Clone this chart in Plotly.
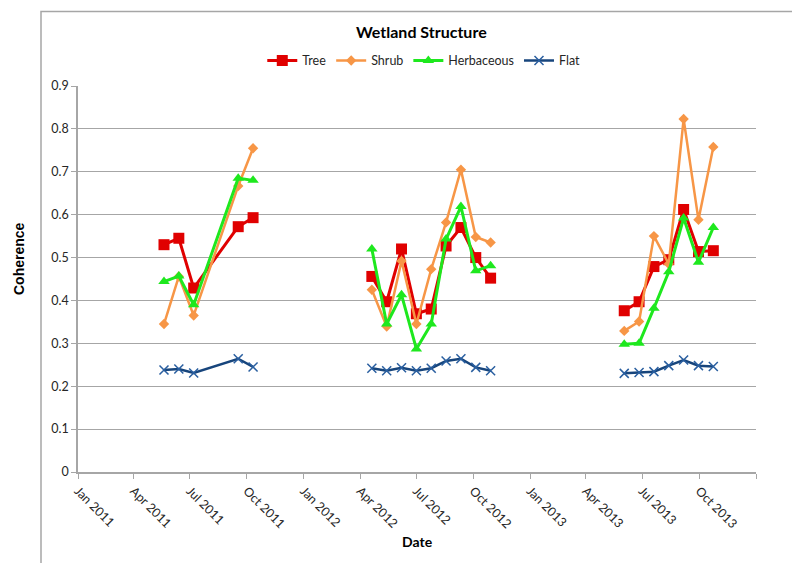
import plotly.graph_objects as go

# Acquisition dates per season (24-day repeat cycle)
dates_2011 = ["2011-05-20", "2011-06-13", "2011-07-07", "2011-09-17", "2011-10-11"]
dates_2012 = ["2012-04-20", "2012-05-14", "2012-06-07", "2012-07-01", "2012-07-25",
              "2012-08-18", "2012-09-11", "2012-10-05", "2012-10-29"]
dates_2013 = ["2013-06-02", "2013-06-26", "2013-07-20", "2013-08-13", "2013-09-06",
              "2013-09-30", "2013-10-24"]

# Mean coherence per wetland class
tree_2011 = [0.530, 0.545, 0.429, 0.572, 0.593]
tree_2012 = [0.456, 0.397, 0.520, 0.369, 0.380, 0.527, 0.570, 0.500, 0.452]
tree_2013 = [0.376, 0.397, 0.479, 0.495, 0.612, 0.514, 0.516]

shrub_2011 = [0.345, 0.456, 0.365, 0.667, 0.755]
shrub_2012 = [0.425, 0.339, 0.492, 0.345, 0.473, 0.582, 0.705, 0.548, 0.535]
shrub_2013 = [0.329, 0.351, 0.550, 0.485, 0.823, 0.588, 0.758]

herb_2011 = [0.444, 0.457, 0.390, 0.685, 0.680]
herb_2012 = [0.520, 0.345, 0.413, 0.287, 0.345, 0.543, 0.619, 0.469, 0.481]
herb_2013 = [0.298, 0.300, 0.382, 0.467, 0.592, 0.489, 0.570]

flat_2011 = [0.238, 0.240, 0.231, 0.264, 0.245]
flat_2012 = [0.242, 0.236, 0.243, 0.236, 0.242, 0.259, 0.264, 0.244, 0.236]
flat_2013 = [0.230, 0.232, 0.234, 0.248, 0.261, 0.248, 0.246]

y_ticks = [0, 0.1, 0.2, 0.3, 0.4, 0.5, 0.6, 0.7, 0.8, 0.9]
y_tick_labels = ["0", "0.1", "0.2", "0.3", "0.4", "0.5", "0.6", "0.7", "0.8", "0.9"]


def seasons(a, b, c):
    # break the line between seasons
    return list(a) + [None] + list(b) + [None] + list(c)


x_all = seasons(dates_2011, dates_2012, dates_2013)

series = [
    ("Tree", seasons(tree_2011, tree_2012, tree_2013), "#E00000",
     dict(symbol="square", size=11), 3),
    ("Shrub", seasons(shrub_2011, shrub_2012, shrub_2013), "#F79646",
     dict(symbol="diamond", size=8), 2.5),
    ("Herbaceous", seasons(herb_2011, herb_2012, herb_2013), "#1EE81E",
     dict(symbol="triangle-up", size=10), 3),
    ("Flat", seasons(flat_2011, flat_2012, flat_2013), "#17457C",
     dict(symbol="x-thin", size=9, line=dict(width=1.5, color="#2A5FA0")), 2.5),
]

fig = go.Figure()
for name, vals, color, marker, lw in series:
    m = dict(color=color, **marker)
    fig.add_trace(go.Scatter(
        x=x_all, y=vals, name=name, mode="lines+markers",
        line=dict(color=color, width=lw), marker=m, connectgaps=False,
    ))

font_main = "Lato, 'Open Sans', Arial, sans-serif"

fig.update_layout(
    width=792, height=563,
    margin=dict(l=78, r=36, t=86, b=91),
    paper_bgcolor="white", plot_bgcolor="white",
    font=dict(family=font_main, size=12, color="#262626"),
    title=dict(text="<b>Wetland Structure</b>", x=0.532, xanchor="center",
               y=1 - 32 / 563, yanchor="middle", yref="container",
               font=dict(size=16, color="#000000")),
    showlegend=True,
    legend=dict(orientation="h", x=0.51, xanchor="center", y=1.065, yanchor="middle",
                font=dict(size=12.5, color="#262626"), itemwidth=30,
                bgcolor="rgba(0,0,0,0)", tracegroupgap=0),
    xaxis=dict(
        type="date", range=["2011-01-01", "2014-01-01"],
        tick0="2011-01-01", dtick="M3", tickformat="%b %Y", tickangle=45,
        showgrid=False, showline=True, linecolor="#A6A6A6", linewidth=1.5,
        ticks="outside", ticklen=5, tickcolor="#A6A6A6", tickwidth=1,
        tickfont=dict(size=12.5, color="#262626"), zeroline=False,
    ),
    yaxis=dict(
        range=[0, 0.9], tickvals=y_ticks, ticktext=y_tick_labels,
        showgrid=True, gridcolor="#A6A6A6", gridwidth=1.2,
        showline=True, linecolor="#A6A6A6", linewidth=1.5,
        ticks="outside", ticklen=5, tickcolor="#A6A6A6",
        tickfont=dict(size=12.5, color="#262626"), zeroline=False,
    ),
    annotations=[
        dict(text="<b>Date</b>", xref="paper", yref="paper",
             x=(417 - 78) / 678, y=(472 - 541) / 386,
             xanchor="center", yanchor="middle", showarrow=False,
             font=dict(size=14, color="#000000")),
        dict(text="<b>Coherence</b>", xref="paper", yref="paper",
             x=(19 - 78) / 678, y=(472 - 258) / 386, textangle=-90,
             xanchor="center", yanchor="middle", showarrow=False,
             font=dict(size=14, color="#000000", family="Arial, 'Liberation Sans', sans-serif")),
    ],
    shapes=[
        dict(type="rect", xref="paper", yref="paper",
             x0=(41 - 78) / 678, x1=1.2, y0=-0.5, y1=(472 - 11.5) / 386,
             line=dict(color="#A6A6A6", width=1.5), layer="below"),
    ],
)

fig.write_html("out.html")
